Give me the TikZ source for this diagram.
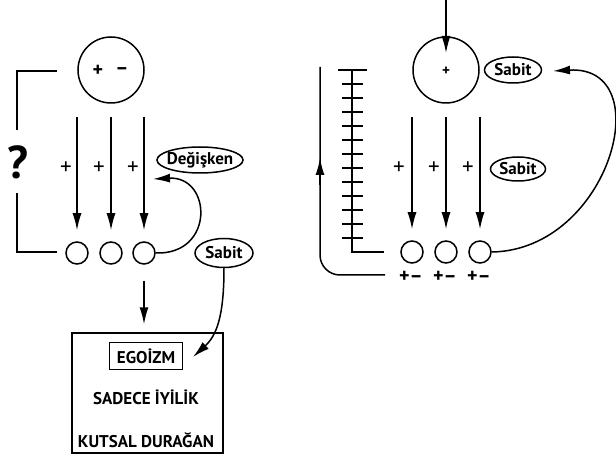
\documentclass[tikz,border=0pt]{standalone}
\usepackage{fontspec}
\setmainfont{PT Sans}
\usetikzlibrary{arrows.meta,shapes.geometric}
\begin{document}
\begin{tikzpicture}[x=1pt,y=-1pt,
  line width=1.5pt,
  arr/.style={-{Latex[length=17pt,width=9pt]}},
  bigc/.style={circle,draw,minimum size=66pt,inner sep=0pt},
  smc/.style={circle,draw,minimum size=22pt,inner sep=0pt},
  oval/.style={ellipse,draw,inner xsep=-40pt,inner ysep=-20pt,font=\fontsize{17}{17}\selectfont\bfseries},
  plus/.style={font=\fontsize{23}{23}\selectfont,inner sep=0pt},
  pm/.style={font=\fontsize{20}{20}\selectfont\bfseries,inner sep=0pt},
  boxtxt/.style={font=\fontsize{17}{17}\selectfont\bfseries,inner sep=0pt}]
\useasboundingbox (0,0) rectangle (616,457);

% ---------- left part ----------
\node[bigc] (LB) at (111,70) {};
\node[pm] (LBp) at (98,71) {+};
\node[pm] (LBm) at (122,71) {–};

\node[smc] (L1) at (77,253) {};
\node[smc] (L2) at (111,253) {};
\node[smc] (L3) at (144,253) {};

\foreach \n/\x in {1/77,2/111,3/144}{
  \coordinate (la\n) at (\x,117);
  \draw[arr,shorten >=11pt] (la\n) -- (L\n);
}
\node[plus] (lp1) at (66,168) {+};
\node[plus] (lp2) at (99,168) {+};
\node[plus] (lp3) at (133,168) {+};

% bracket with question mark
\coordinate (bt) at (57,71);
\coordinate (bq1) at (17,130);
\coordinate (bq2) at (17,193);
\coordinate (bb) at (57,252);
\draw (bt) -| (bq1);
\draw (bq2) |- (bb);
\node[font=\fontsize{46}{46}\selectfont\bfseries,inner sep=0pt] (Q) at (18,162) {?};

\node[oval,minimum width=86pt,minimum height=26pt] (DG) at (200,160) {Değişken};
\node[oval,minimum width=58pt,minimum height=29pt] (SL) at (224,253) {Sabit};

\coordinate (dgtip) at (153,179);
\draw[arr] (L3.east) .. controls (215,255) and (212,176) .. (dgtip);

% box
\node[draw,minimum width=151pt,minimum height=120pt,inner sep=0pt] (BX) at (147.5,393) {};
\node[boxtxt,draw,minimum width=73pt,minimum height=27pt] (EG) at (146,356) {EGOİZM};
\node[boxtxt] (SD) at (146,397) {SADECE İYİLİK};
\node[boxtxt] (KD) at (146,440) {KUTSAL DURAĞAN};

\draw[arr,shorten <=16pt,shorten >=8pt] (L3) -- (L3 |- BX.north);
\coordinate (egtip) at (193,357);
\draw[arr] (SL.south) .. controls (224,318) and (216,336) .. (egtip);

% ---------- right part ----------
\node[bigc] (RB) at (446,70) {};
\node[font=\fontsize{15}{15}\selectfont\bfseries,inner sep=0pt] (RBp) at (446,71) {+};
\coordinate (rtop) at (446,0);
\coordinate (rtip) at (446,53);
\draw[arr] (rtop) -- (rtip);

\node[oval,minimum width=57pt,minimum height=26pt] (SR1) at (513,70) {Sabit};
\node[oval,minimum width=55pt,minimum height=24pt] (SR2) at (518,169) {Sabit};

\node[smc] (R1) at (412,252) {};
\node[smc] (R2) at (446,252) {};
\node[smc] (R3) at (480,252) {};

\foreach \n/\x in {1/412,2/446,3/480}{
  \coordinate (ra\n) at (\x,117);
  \draw[arr,shorten >=11pt] (ra\n) -- (R\n);
}
\node[plus] (rp1) at (399,168) {+};
\node[plus] (rp2) at (434,168) {+};
\node[plus] (rp3) at (468,168) {+};

\node[pm] (rq1) at (411,277) {+–};
\node[pm] (rq2) at (445,277) {+–};
\node[pm] (rq3) at (479,277) {+–};

% ladder
\coordinate (ladtop) at (352,70);
\draw (ladtop) |- ([xshift=-16pt]R1.west);
\draw (338,70) -- (367,70);
\foreach \k in {1,...,12}{
  \draw (342,70+14*\k) -- (363,70+14*\k);
}

% outer loop
\coordinate (lpA) at (385,275);
\coordinate (lpB) at (320,67);
\draw[rounded corners=20pt] (lpA) -| (lpB);
\draw[arr] (320,185) -- (320,158);

% big feedback curve
\coordinate (srtip) at (553,71);
\draw[arr] (R3.east) .. controls (610,250) and (660,65) .. (srtip);

\end{tikzpicture}
\end{document}
